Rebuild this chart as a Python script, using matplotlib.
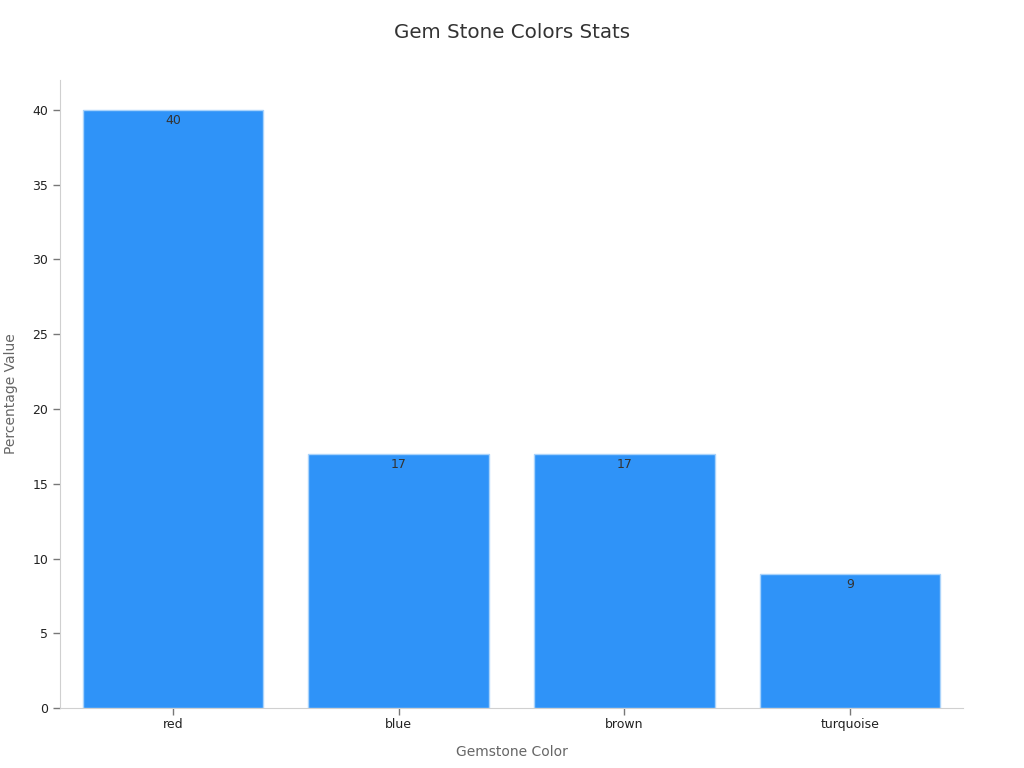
import matplotlib.pyplot as plt

plt.rcParams['font.family'] = ['DejaVu Sans']

# data
colors = ['red', 'blue', 'brown', 'turquoise']
values = [40, 17, 17, 9]
yticks = [0, 5, 10, 15, 20, 25, 30, 35, 40]

fig = plt.figure(figsize=(10.24, 7.68), dpi=100)
ax = fig.add_axes([0.0586, 0.078, 0.8818, 0.8178])

bars = ax.bar(range(len(colors)), values, width=0.8, color='#2f93f8',
              edgecolor='#a9d3fb', linewidth=1, zorder=2)

# value labels just inside the top of each bar
for b, v in zip(bars, values):
    ax.annotate(str(v), (b.get_x() + b.get_width() / 2, v),
                xytext=(0, -3), textcoords='offset points',
                ha='center', va='top', fontsize=9, color='#333333')

ax.set_xlim(-0.5, 3.5)
ax.set_ylim(0, 42)
ax.set_xticks(range(len(colors)))
ax.set_xticklabels(colors)
ax.set_yticks(yticks)

ax.spines['top'].set_visible(False)
ax.spines['right'].set_visible(False)
ax.spines['left'].set_color('#d0d0d0')
ax.spines['bottom'].set_color('#d0d0d0')
ax.tick_params(axis='both', colors='#777777', labelcolor='#222222',
               labelsize=9, length=5, width=1)
ax.tick_params(axis='x', pad=2)

ax.set_xlabel('Gemstone Color', fontsize=10, color='#666666', labelpad=10)
ax.set_ylabel('Percentage Value', fontsize=10, color='#666666', labelpad=10)
fig.suptitle('Gem Stone Colors Stats', fontsize=14.3, color='#333333', y=0.97)

fig.savefig('out.png', dpi=100)
